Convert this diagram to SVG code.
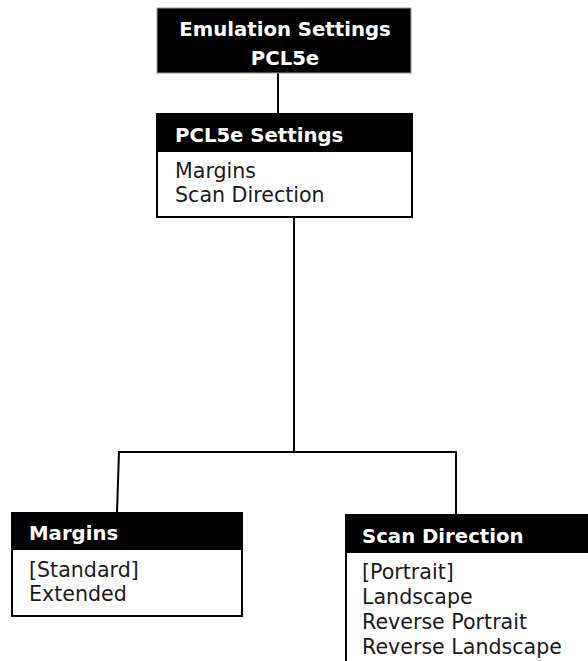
<svg xmlns="http://www.w3.org/2000/svg" width="588" height="661" viewBox="0 0 588 661">
<style>
.box{fill:#fff;stroke:#000;stroke-width:2}
.hdr{fill:#000}
.ht{font-family:"DejaVu Sans",Verdana,sans-serif;font-weight:bold;font-size:19.7px;fill:#fff}
.bt{font-family:"DejaVu Sans",Verdana,sans-serif;font-size:20.6px;fill:#1a1a1a}
.conn{fill:none;stroke:#000;stroke-width:2}
</style>
<rect width="588" height="661" fill="#fff"/>
<g id="connectors">
<line class="conn" x1="278" y1="73" x2="278" y2="114"/>
<line class="conn" x1="294" y1="217" x2="294" y2="452"/>
<polyline class="conn" points="117,513 119,452 456,452 456,515"/>
</g>
<g id="emulation">
<rect x="157" y="8" width="254" height="65" fill="#000" stroke="#999" stroke-width="1"/>
<text class="ht" x="285" y="36" text-anchor="middle">Emulation Settings</text>
<text class="ht" x="285" y="65" text-anchor="middle">PCL5e</text>
</g>
<g id="pcl5e">
<rect class="box" x="157" y="114" width="255" height="103"/>
<rect class="hdr" x="157" y="114" width="255" height="38"/>
<text class="ht" x="175" y="142">PCL5e Settings</text>
<text class="bt" x="175" y="178">Margins</text>
<text class="bt" x="175" y="202">Scan Direction</text>
</g>
<g id="margins">
<rect class="box" x="12" y="513" width="230" height="103"/>
<rect class="hdr" x="12" y="513" width="230" height="37"/>
<text class="ht" x="29" y="540">Margins</text>
<text class="bt" x="29" y="577">[Standard]</text>
<text class="bt" x="29" y="601">Extended</text>
</g>
<g id="scandirection">
<rect class="box" x="346" y="515" width="260" height="160"/>
<rect class="hdr" x="346" y="515" width="260" height="38"/>
<text class="ht" x="362" y="543">Scan Direction</text>
<text class="bt" x="362" y="579">[Portrait]</text>
<text class="bt" x="362" y="604">Landscape</text>
<text class="bt" x="362" y="629">Reverse Portrait</text>
<text class="bt" x="362" y="654">Reverse Landscape</text>
</g>
</svg>
